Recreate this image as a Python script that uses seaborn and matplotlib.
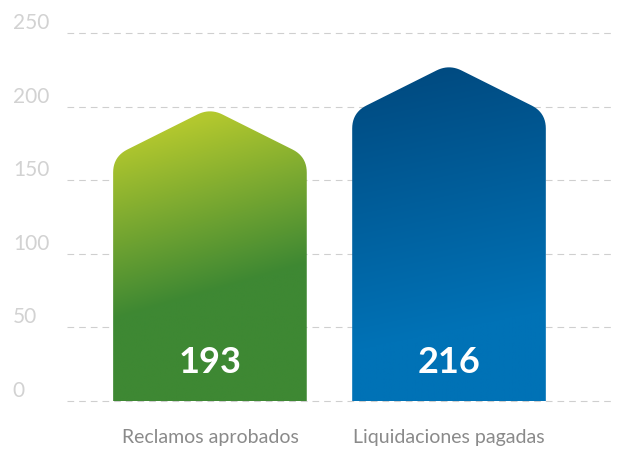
import numpy as np
import matplotlib
matplotlib.use("Agg")
import matplotlib.pyplot as plt
from matplotlib.patches import Polygon
from matplotlib.colors import to_rgb
import seaborn as sns

# datos del grafico
categorias = ["Reclamos aprobados", "Liquidaciones pagadas"]
valores = [193, 216]
ticks_y = [0, 50, 100, 150, 200, 250]
color_arriba = ["#b3c82e", "#004a80"]
color_abajo = ["#3e8833", "#0072b6"]

sns.set_style("white")
plt.rcParams["font.family"] = ["Lato", "DejaVu Sans"]
plt.rcParams["lines.scale_dashes"] = False

fig = plt.figure(figsize=(6.23, 4.51), dpi=100)
ax = fig.add_axes([67 / 623, 50 / 451, 546 / 623, 368 / 451])

sns.barplot(x=categorias, y=valores, width=0.81, color="white", ax=ax)
ax.set_xlim(-0.598, 1.686)
ax.set_ylim(0, 250)
ax.set_yticks(ticks_y)
ax.set_xlabel("")
ax.set_ylabel("")

# lineas de fondo punteadas
ax.yaxis.grid(True, color="#cfcfcf", linestyle=(0, (4.8, 3.6)), linewidth=0.8)
ax.xaxis.grid(False)
ax.set_axisbelow(True)
for gl in ax.get_ygridlines():
    gl.set_clip_on(False)
sns.despine(ax=ax, left=True, bottom=True)


def redondear(puntos, radios, n=12):
    # reemplaza cada vertice por una curva cuadratica
    out = []
    m = len(puntos)
    for i in range(m):
        p = np.array(puntos[i], float)
        r = radios[i]
        if r == 0:
            out.append(p)
            continue
        a = np.array(puntos[i - 1], float)
        b = np.array(puntos[(i + 1) % m], float)
        pa = p + (a - p) / np.linalg.norm(a - p) * r
        pb = p + (b - p) / np.linalg.norm(b - p) * r
        for t in np.linspace(0, 1, n):
            out.append((1 - t) ** 2 * pa + 2 * (1 - t) * t * p + t ** 2 * pb)
    return np.array(out)


gradientes = [(0.19, 0.12, 0.72), (0.12, 0.05, 0.85)]

for i, (p, val) in enumerate(zip(ax.patches, valores)):
    p.set_visible(False)
    x0 = p.get_x()
    w = p.get_width()
    # la punta de la "casa" como en el original (no es proporcional exacta)
    tope = val * 1.3 - 52
    xl, yb = ax.transData.transform((x0, 0))
    xr, ya = ax.transData.transform((x0 + w, tope))
    xc = (xl + xr) / 2
    ys = ya - (xr - xl) / 2 * 0.5
    pts = redondear([(xl, yb), (xl, ys), (xc, ya), (xr, ys), (xr, yb)],
                    [0, 16, 14, 16, 0])
    pts = ax.transData.inverted().transform(pts)
    casa = Polygon(pts, closed=True, facecolor="none", edgecolor="none")
    ax.add_patch(casa)

    k, s0, s1 = gradientes[i]
    u = np.linspace(0, 1, 200)[None, :]
    v = np.linspace(0, 1, 300)[:, None]
    t = np.clip((v + k * u - s0) / (s1 - s0), 0, 1)[..., None]
    img = np.array(to_rgb(color_arriba[i])) * (1 - t) + np.array(to_rgb(color_abajo[i])) * t
    im = ax.imshow(img, extent=(x0, x0 + w, 0, tope), origin="upper",
                   aspect="auto", zorder=2)
    im.set_clip_path(casa)

    ax.text(x0 + w / 2, 26, str(val), ha="center", va="center", color="white",
            fontsize=26, fontweight="bold", zorder=3)

ax.set_xlim(-0.598, 1.686)
ax.set_ylim(0, 250)

ax.tick_params(axis="y", length=0, pad=39, labelsize=15, labelcolor="#d2d2d2")
ax.tick_params(axis="x", length=0, pad=20, labelsize=14, labelcolor="#8a8a8a")
for lab in ax.get_yticklabels():
    lab.set_ha("left")
    lab.set_va("bottom")

fig.savefig("out.png", dpi=100)
